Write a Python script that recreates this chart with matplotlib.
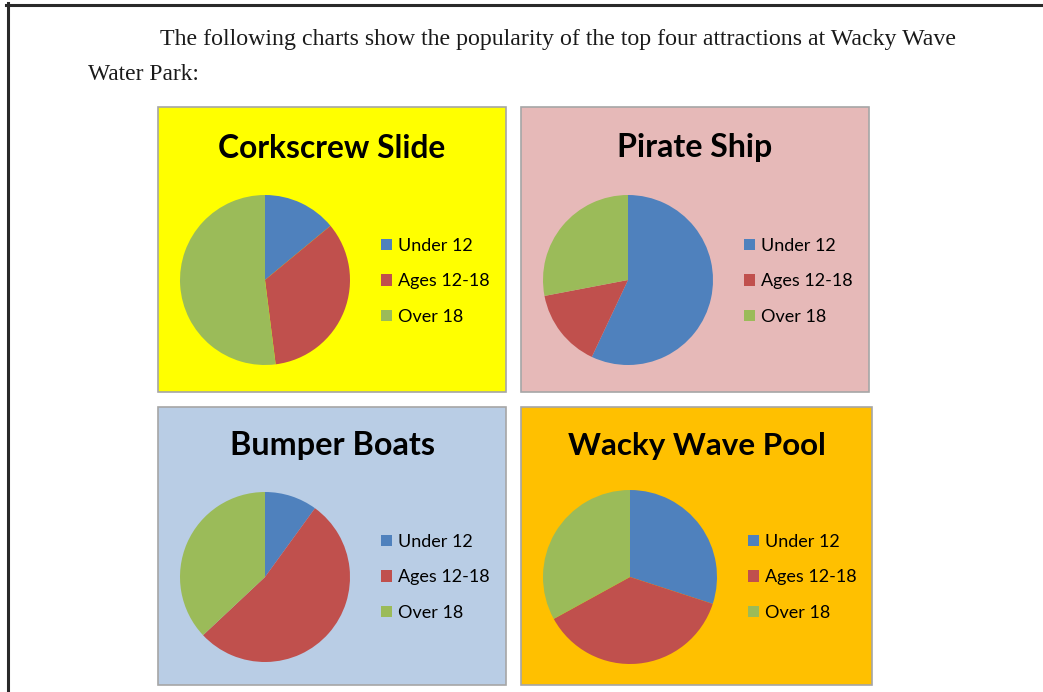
import matplotlib
matplotlib.use("Agg")
import matplotlib.pyplot as plt
from matplotlib.lines import Line2D
from matplotlib.patches import Rectangle

W, H = 1043, 692
DPI = 100

# ---- data ----
titles = ["Corkscrew Slide", "Pirate Ship", "Bumper Boats", "Wacky Wave Pool"]
categories = ["Under 12", "Ages 12-18", "Over 18"]
corkscrew = [14, 34, 52]
pirate = [57, 15, 28]
bumper = [10, 53, 37]
wave_pool = [30, 37, 33]
series = [corkscrew, pirate, bumper, wave_pool]
intro_line1 = "The following charts show the popularity of the top four attractions at Wacky Wave"
intro_line2 = "Water Park:"

# ---- style / layout ----
slice_colors = ["#4F81BD", "#C0504D", "#9BBB59"]
panel_colors = ["#FFFF00", "#E6B9B8", "#B9CDE5", "#FFC000"]
# panel rects in pixels (x0, y0, x1, y1), y from top
panels = [(158, 107, 506, 392), (521, 107, 869, 392),
          (158, 407, 506, 685), (521, 407, 872, 685)]
title_pos = [(332, 148), (695, 148), (332, 446), (697, 446)]
title_w = [228, 156, 205, 258]
pie_geo = [(265, 280, 85), (628, 280, 85), (265, 577, 85), (630, 577, 87)]
legend_pos = [(381, 238), (744, 238), (381, 534), (748, 534)]

fig = plt.figure(figsize=(W / DPI, H / DPI), dpi=DPI)
fig.patch.set_facecolor("white")
renderer = fig.canvas.get_renderer()


def fx(x):
    return x / W


def fy(y):
    return 1 - y / H


def fit_text(s, xc, yc, width, ha="center", **kw):
    t = fig.text(fx(xc), fy(yc), s, ha=ha, va="center", fontsize=20, **kw)
    bb = t.get_window_extent(renderer)
    t.set_fontsize(20 * width / bb.width)
    return t


# document border
fig.add_artist(Line2D([fx(7.5), fx(7.5)], [fy(3), fy(H + 5)], color="#2a2a2a", lw=2.2,
                      transform=fig.transFigure))
fig.add_artist(Line2D([fx(6.4), fx(W + 5)], [fy(4.5), fy(4.5)], color="#2a2a2a", lw=2.2,
                      transform=fig.transFigure))

# intro text
fit_text(intro_line1, 160, 40, 795, ha="left", family="Liberation Serif", color="#1a1a1a")
fit_text(intro_line2, 88, 75, 111, ha="left", family="Liberation Serif", color="#1a1a1a")

for i in range(4):
    x0, y0, x1, y1 = panels[i]
    fig.add_artist(Rectangle((fx(x0), fy(y1)), fx(x1) - fx(x0), fy(y0) - fy(y1),
                             transform=fig.transFigure, facecolor=panel_colors[i],
                             edgecolor="#A6A6A6", lw=1.2, zorder=0))
    tx, ty = title_pos[i]
    fit_text(titles[i], tx, ty, title_w[i], family="Lato", fontweight="bold", color="black")

    cx, cy, r = pie_geo[i]
    ax = fig.add_axes([fx(cx - r), fy(cy + r), 2 * r / W, 2 * r / H])
    ax.set_facecolor("none")
    wedges, _ = ax.pie(series[i], colors=slice_colors, startangle=90, counterclock=False,
                       radius=1, wedgeprops=dict(linewidth=0))
    ax.set_xlim(-1, 1)
    ax.set_ylim(-1, 1)
    ax.set_axis_off()

    lx, ly = legend_pos[i]
    ax.legend(wedges, categories, loc="upper left",
              bbox_to_anchor=(fx(lx), fy(ly)), bbox_transform=fig.transFigure,
              frameon=False, handlelength=0.6, handleheight=0.6,
              handletextpad=0.35, labelspacing=1.07, borderpad=0, borderaxespad=0,
              prop=dict(family="Lato", size=13))

fig.savefig("out.png", dpi=DPI)
